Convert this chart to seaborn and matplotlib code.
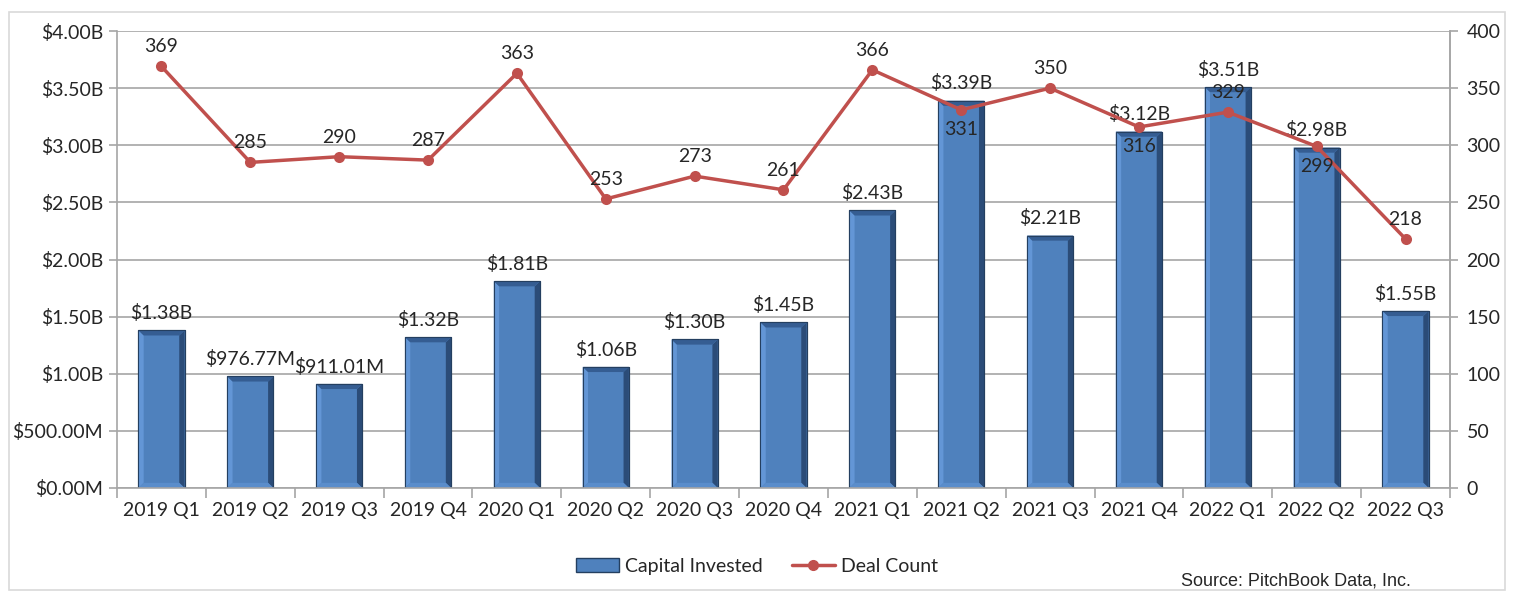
import matplotlib
matplotlib.use("Agg")
import matplotlib.pyplot as plt
import seaborn as sns
import pandas as pd
from matplotlib.patches import Rectangle, Polygon, Patch
from matplotlib.lines import Line2D

quarters = ["2019 Q1", "2019 Q2", "2019 Q3", "2019 Q4", "2020 Q1", "2020 Q2", "2020 Q3",
            "2020 Q4", "2021 Q1", "2021 Q2", "2021 Q3", "2021 Q4", "2022 Q1", "2022 Q2", "2022 Q3"]
capital_b = [1.38, 0.97677, 0.91101, 1.32, 1.81, 1.06, 1.30, 1.45, 2.43, 3.39, 2.21, 3.12, 3.51, 2.98, 1.55]
capital_labels = ["$1.38B", "$976.77M", "$911.01M", "$1.32B", "$1.81B", "$1.06B", "$1.30B", "$1.45B",
                  "$2.43B", "$3.39B", "$2.21B", "$3.12B", "$3.51B", "$2.98B", "$1.55B"]
deal_count = [369, 285, 290, 287, 363, 253, 273, 261, 366, 331, 350, 316, 329, 299, 218]
deal_label_below = [False, False, False, False, False, False, False, False, False, True, False, True, False, True, False]
left_ticks = [0, 0.5, 1.0, 1.5, 2.0, 2.5, 3.0, 3.5, 4.0]
left_tick_labels = ["$0.00M", "$500.00M", "$1.00B", "$1.50B", "$2.00B", "$2.50B", "$3.00B", "$3.50B", "$4.00B"]
right_ticks = [0, 50, 100, 150, 200, 250, 300, 350, 400]

sns.set_theme(style="white")
plt.rcParams['font.family'] = ['Lato', 'DejaVu Sans']
FS = 14

df = pd.DataFrame({"quarter": quarters, "capital": capital_b, "deals": deal_count})

fig = plt.figure(figsize=(15.14, 5.92), dpi=100)
fig.patches.append(Rectangle((0.006, 0.003), 0.988, 0.977, transform=fig.transFigure,
                             fill=False, edgecolor="#D9D9D9", linewidth=1.2))
ax = fig.add_axes([0.0773, 0.1757, 0.8804, 0.7719])

GRID = "#A6A6A6"
sns.barplot(data=df, x="quarter", y="capital", ax=ax, color="#4F81BD", width=0.52,
            edgecolor="#243F60", linewidth=0.8, saturation=1)
# bevel effect
for p in list(ax.patches):
    x, y0 = p.get_x(), p.get_y()
    w, h = p.get_width(), p.get_height()
    dx, dy = 0.06, 0.045
    x1, x2, y1, y2 = x, x + w, y0, y0 + h
    z = p.get_zorder() + 0.1
    bevels = [
        ([(x1, y1), (x1 + dx, y1 + dy), (x1 + dx, y2 - dy), (x1, y2)], "#6396D6"),  # left light
        ([(x2, y1), (x2 - dx, y1 + dy), (x2 - dx, y2 - dy), (x2, y2)], "#2B4C78"),  # right dark
        ([(x1, y2), (x1 + dx, y2 - dy), (x2 - dx, y2 - dy), (x2, y2)], "#355D92"),  # top
        ([(x1, y1), (x1 + dx, y1 + dy), (x2 - dx, y1 + dy), (x2, y1)], "#5A8DCB"),  # bottom
    ]
    for pts, c in bevels:
        ax.add_patch(Polygon(pts, closed=True, facecolor=c, edgecolor="none", zorder=z))
    ax.add_patch(Rectangle((x1, y1), w, h, fill=False, edgecolor="#243F60", linewidth=0.8, zorder=z + 0.1))

ax.set_ylim(0, 4.0)
ax.set_xlim(-0.5, len(quarters) - 0.5)
ax.set_yticks(left_ticks)
ax.set_yticklabels(left_tick_labels)
ax.set_xlabel("")
ax.set_ylabel("")
ax.yaxis.grid(True, color=GRID, linewidth=1.2)
ax.set_axisbelow(True)
ax.spines["top"].set_visible(False)
for s in ["left", "right", "bottom"]:
    ax.spines[s].set_color(GRID)
    ax.spines[s].set_linewidth(1.2)
ax.tick_params(axis="y", length=6, color=GRID, width=1.2, labelsize=FS, pad=4, left=True)
ax.tick_params(axis="x", length=0, labelsize=FS, pad=10)
ax.set_xticks([i - 0.5 for i in range(len(quarters) + 1)], minor=True)
ax.tick_params(axis="x", which="minor", length=7, color=GRID, width=1.2, bottom=True)

for i, (v, lab) in enumerate(zip(capital_b, capital_labels)):
    ax.annotate(lab, (i, v), xytext=(0, 6), textcoords="offset points",
                ha="center", va="bottom", fontsize=FS, zorder=6)

ax2 = ax.twinx()
sns.lineplot(data=df, x="quarter", y="deals", ax=ax2, color="#C0504D", linewidth=2.5,
             marker="o", markersize=8, markeredgewidth=0, sort=False)
ax2.set_ylim(0, 400)
ax2.set_yticks(right_ticks)
ax2.set_ylabel("")
ax2.set_xlabel("")
for s in ["top", "left", "bottom"]:
    ax2.spines[s].set_visible(False)
ax2.spines["right"].set_color(GRID)
ax2.spines["right"].set_linewidth(1.2)
ax2.tick_params(axis="y", length=6, color=GRID, width=1.2, labelsize=FS, pad=6, right=True)
ax2.grid(False)

for i, (v, below) in enumerate(zip(deal_count, deal_label_below)):
    if below:
        ax2.annotate(str(v), (i, v), xytext=(0, -8), textcoords="offset points",
                     ha="center", va="top", fontsize=FS, zorder=6)
    else:
        ax2.annotate(str(v), (i, v), xytext=(0, 8), textcoords="offset points",
                     ha="center", va="bottom", fontsize=FS, zorder=6)

handles = [Patch(facecolor="#4F81BD", edgecolor="#243F60", label="Capital Invested"),
           Line2D([0], [0], color="#C0504D", linewidth=2.5, marker="o", markersize=7, label="Deal Count")]
fig.legend(handles=handles, loc="center", bbox_to_anchor=(0.5, 0.043), ncol=2, frameon=False,
           fontsize=FS, handlelength=2.2, handletextpad=0.3, columnspacing=1.5)

fig.text(0.932, 0.018, "Source: PitchBook Data, Inc.", ha="right", va="center", fontsize=13,
         family=["Liberation Sans Narrow", "Liberation Sans", "DejaVu Sans"])

fig.savefig("out.png", dpi=100)
